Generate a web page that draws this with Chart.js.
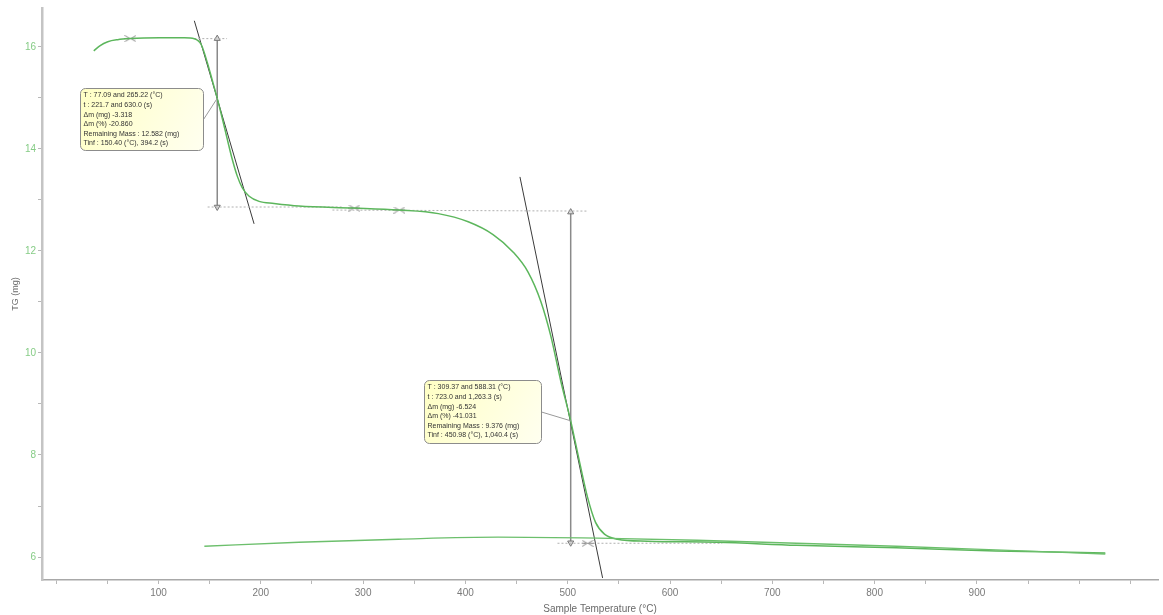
<!DOCTYPE html>
<html>
<head>
<meta charset="utf-8">
<script src="https://cdn.jsdelivr.net/npm/chart.js@4.4.1/dist/chart.umd.min.js"></script>
<style>
  html, body { margin: 0; padding: 0; background: #fff; }
  #grafico { display: block; }
</style>
</head>
<body>
<canvas id="grafico" width="1163" height="615"></canvas>
<script>
// curva TG (aquecimento)
const tempTG = [36.7, 42.6, 50.4, 60.1, 71.8, 101, 125.3, 135.0, 141.8, 147.7, 152.6, 157.4, 162.3, 167.2, 172.0, 176.9, 181.8, 188.6, 198.3, 212.9,
  237.2, 290.8, 334.5, 373.5, 402.7, 427.0, 446.5, 461.1, 473.7, 483.5, 493.2, 502.9, 511.7, 519.4, 527.2, 535.9, 548.6, 577.8, 645.9, 723.8, 821.2, 918.5, 1025.5];
const massaTG = [15.92, 16.02, 16.10, 16.14, 16.16, 16.175, 16.175, 16.156, 16.04, 15.69, 15.34, 14.99, 14.60, 14.19, 13.80, 13.47, 13.24, 13.07, 12.97, 12.93,
  12.88, 12.84, 12.80, 12.73, 12.57, 12.32, 11.98, 11.59, 11.01, 10.33, 9.45, 8.67, 7.85, 7.17, 6.68, 6.45, 6.35, 6.31, 6.29, 6.23, 6.18, 6.12, 6.08];

// curva de resfriamento (linha de baixo)
const tempResf = [144.8, 237.2, 334.5, 431.9, 529.2, 626.5, 723.8, 821.2, 918.5, 1025.5];
const massaResf = [6.21, 6.29, 6.35, 6.39, 6.37, 6.33, 6.27, 6.21, 6.14, 6.06];

// tangentes
const tangente1T = [135.0, 193.4];
const tangente1M = [16.51, 12.53];
const tangente2T = [453.3, 534.1];
const tangente2M = [13.45, 5.59];

// linhas de referencia pontilhadas
const refTopoT = [135, 167];
const refTopoM = [16.16, 16.16];
const refMeio1T = [148, 280];
const refMeio1M = [12.86, 12.86];
const refMeio2T = [270, 520];
const refMeio2M = [12.80, 12.78];
const refBaseT = [490, 651];
const refBaseM = [6.27, 6.27];

// setas de delta m
const seta1T = [157.4, 157.4];
const seta1M = [16.16, 12.86];
const seta2T = [502.9, 502.9];
const seta2M = [12.76, 6.28];

// cursores
const cursorT = [72.5, 291.5, 335.5, 519.4];
const cursorM = [16.16, 12.84, 12.80, 6.27];

// eixos
const ticksX = [0, 50, 100, 150, 200, 250, 300, 350, 400, 450, 500, 550, 600, 650, 700, 750, 800, 850, 900, 950, 1000, 1050];
const ticksY = [6, 7, 8, 9, 10, 11, 12, 13, 14, 15, 16];

// textos das caixas
const textoCaixa1 = [
  'T : 77.09 and 265.22 (°C)',
  't : 221.7 and 630.0 (s)',
  'Δm (mg) -3.318',
  'Δm (%) -20.860',
  'Remaining Mass : 12.582 (mg)',
  'Tinf : 150.40 (°C), 394.2 (s)'
];
const textoCaixa2 = [
  'T : 309.37 and 588.31 (°C)',
  't : 723.0 and 1,263.3 (s)',
  'Δm (mg) -6.524',
  'Δm (%) -41.031',
  'Remaining Mass : 9.376 (mg)',
  'Tinf : 450.98 (°C), 1,040.4 (s)'
];

const fonte = '"Liberation Sans", Arial, sans-serif';
const pts = (ts, ms) => ts.map((t, i) => ({ x: t, y: ms[i] }));

// caixas de anotacao (posicao em coordenadas do grafico)
const notas = [
  { t: 23.1, m: 15.2, w: 123, h: 62, alvoT: 157.4, alvoM: 14.99, linhas: textoCaixa1 },
  { t: 359.9, m: 9.47, w: 117, h: 63, alvoT: 502.9, alvoM: 8.67, linhas: textoCaixa2 }
];

// desenho do cursor "><"
const cursorImg = document.createElement('canvas');
cursorImg.width = 12; cursorImg.height = 7;
(() => {
  const c = cursorImg.getContext('2d');
  c.strokeStyle = '#8a8a8a';
  c.lineWidth = 1;
  c.beginPath();
  c.moveTo(0.5, 0.5); c.lineTo(5.5, 3.5); c.lineTo(0.5, 6.5);
  c.moveTo(11.5, 0.5); c.lineTo(6.5, 3.5); c.lineTo(11.5, 6.5);
  c.moveTo(0, 3.5); c.lineTo(12, 3.5);
  c.stroke();
})();

const caixas = {
  id: 'caixas',
  afterDatasetsDraw(chart) {
    const { ctx, scales: { x, y } } = chart;
    notas.forEach(n => {
      const bx = Math.round(x.getPixelForValue(n.t)) + 0.5;
      const by = Math.round(y.getPixelForValue(n.m)) + 0.5;
      const ax = x.getPixelForValue(n.alvoT);
      const ay = y.getPixelForValue(n.alvoM);
      ctx.save();
      ctx.strokeStyle = '#9a9a9a';
      ctx.lineWidth = 1;
      ctx.beginPath();
      ctx.moveTo(bx + n.w, by + n.h / 2);
      ctx.lineTo(ax, ay);
      ctx.stroke();

      const grad = ctx.createLinearGradient(bx, by, bx + n.w, by + n.h);
      grad.addColorStop(0, '#ffffc4');
      grad.addColorStop(1, '#fffff0');
      ctx.fillStyle = grad;
      ctx.strokeStyle = '#8c8c8c';
      ctx.beginPath();
      ctx.roundRect(bx, by, n.w, n.h, 5);
      ctx.fill();
      ctx.stroke();

      ctx.fillStyle = '#333';
      ctx.font = '7px ' + fonte;
      ctx.textBaseline = 'middle';
      n.linhas.forEach((l, i) => {
        ctx.fillText(l, bx + 3, by + 7 + i * 9.6);
      });
      ctx.restore();
    });
  }
};

const ctx = document.getElementById('grafico').getContext('2d');

window.grafico = new Chart(ctx, {
  type: 'line',
  data: {
    datasets: [
      { data: pts(tempResf, massaResf), borderColor: '#6cbf6c', borderWidth: 1.4, pointRadius: 0, cubicInterpolationMode: 'monotone' },
      { data: pts(tempTG, massaTG), borderColor: '#5cb65c', borderWidth: 1.5, pointRadius: 0, cubicInterpolationMode: 'monotone' },
      { data: pts(refTopoT, refTopoM), borderColor: '#b0b0b0', borderWidth: 1, borderDash: [2, 2], pointRadius: 0 },
      { data: pts(refMeio1T, refMeio1M), borderColor: '#b0b0b0', borderWidth: 1, borderDash: [2, 2], pointRadius: 0 },
      { data: pts(refMeio2T, refMeio2M), borderColor: '#b0b0b0', borderWidth: 1, borderDash: [2, 2], pointRadius: 0 },
      { data: pts(refBaseT, refBaseM), borderColor: '#b0b0b0', borderWidth: 1, borderDash: [2, 2], pointRadius: 0 },
      { data: pts(tangente1T, tangente1M), borderColor: '#3a3a3a', borderWidth: 1, pointRadius: 0 },
      { data: pts(tangente2T, tangente2M), borderColor: '#3a3a3a', borderWidth: 1, pointRadius: 0 },
      { data: pts(seta1T, seta1M), borderColor: '#8a8a8a', borderWidth: 1.5, pointStyle: 'triangle', pointRotation: [0, 180], pointRadius: 3.5, pointBackgroundColor: '#d8d8d8', pointBorderColor: '#777', pointBorderWidth: 1 },
      { data: pts(seta2T, seta2M), borderColor: '#8a8a8a', borderWidth: 1.5, pointStyle: 'triangle', pointRotation: [0, 180], pointRadius: 3.5, pointBackgroundColor: '#d8d8d8', pointBorderColor: '#777', pointBorderWidth: 1 },
      { data: pts(cursorT, cursorM), showLine: false, pointStyle: cursorImg, pointRadius: 4 }
    ]
  },
  options: {
    responsive: false,
    animation: false,
    devicePixelRatio: 1,
    layout: { padding: { top: 5, right: 0, left: 0, bottom: 0 } },
    plugins: { legend: { display: false }, tooltip: { enabled: false } },
    scales: {
      x: {
        type: 'linear',
        min: -13.9,
        max: 1077,
        afterBuildTicks: s => { s.ticks = ticksX.map(v => ({ value: v })); },
        afterFit: s => { s.height = 35; },
        ticks: {
          autoSkip: false, maxRotation: 0, padding: 3,
          color: '#7a7a7a', font: { size: 10, family: fonte },
          callback: v => (v % 100 === 0 && v > 0 && v < 1000) ? v : ''
        },
        grid: { drawOnChartArea: false, color: '#b8b8b8', tickLength: 4 },
        border: { color: '#a8a8a8', width: 1.5 },
        title: { display: true, text: 'Sample Temperature (°C)', color: '#6a6a6a', font: { size: 10, family: fonte }, padding: { top: 0, bottom: 0 } }
      },
      y: {
        min: 5.55,
        max: 16.76,
        afterBuildTicks: s => { s.ticks = ticksY.map(v => ({ value: v })); },
        afterFit: s => { s.width = 42; },
        ticks: {
          autoSkip: false, padding: 2,
          color: '#86cc86', font: { size: 10, family: fonte },
          callback: v => v % 2 === 0 ? v : ''
        },
        grid: { drawOnChartArea: false, color: '#b8b8b8', tickLength: 4 },
        border: { color: '#c4c4c4', width: 2.5 },
        title: { display: true, text: 'TG (mg)', color: '#6a6a6a', font: { size: 9, family: fonte }, padding: { top: 10, bottom: 0 } }
      }
    }
  },
  plugins: [caixas]
});
</script>
</body>
</html>
